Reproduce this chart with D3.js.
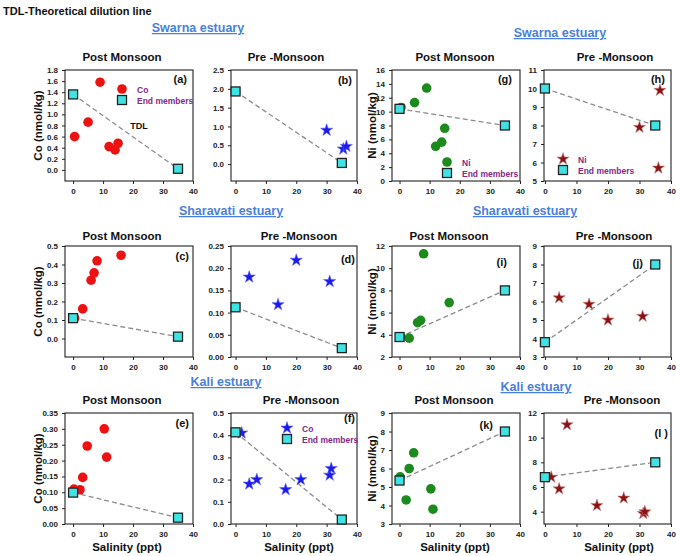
<!DOCTYPE html>
<html>
<head>
<meta charset="utf-8">
<script src="https://cdn.jsdelivr.net/npm/d3@7"></script>
<style>
  body { margin: 0; background: #fff; }
  text { font-family: Arial, "Liberation Sans", sans-serif; font-weight: bold; }
</style>
</head>
<body>
<div id="chart"></div>
<script>
// Data (salinity in ppt, metals in nmol/kg)
var swarnaPostSal = [0.5, 5, 9, 12, 14, 15];
var swarnaPostCo  = [0.6, 0.86, 1.58, 0.42, 0.36, 0.48];
var swarnaPreSal  = [30, 35.5, 36.5];
var swarnaPreCo   = [0.9, 0.4, 0.47];
var swarnaPostNiSal = [0.5, 5, 9, 12, 14, 15];
var swarnaPostNi  = [10.6, 11.3, 13.4, 5.0, 5.6, 7.6];
var swarnaPreNiSal = [30, 36.5, 36];
var swarnaPreNi   = [7.9, 9.9, 5.7];

var sharaPostSal  = [0.5, 3.2, 6, 7, 8, 16];
var sharaPostCo   = [0.11, 0.16, 0.315, 0.355, 0.42, 0.45];
var sharaPreSal   = [4.5, 14, 20, 31];
var sharaPreCo    = [0.18, 0.118, 0.218, 0.17];
var sharaPostNiSal = [0.5, 3.2, 6, 7, 8, 16.5];
var sharaPostNi   = [3.8, 3.7, 5.1, 5.3, 11.3, 6.9];
var sharaPreNiSal = [4.5, 14, 20, 31];
var sharaPreNi    = [6.2, 5.85, 5.0, 5.2];

var kaliPostSal   = [0.3, 2.3, 3.2, 4.7, 10.4, 11.2];
var kaliPostCo    = [0.11, 0.108, 0.147, 0.246, 0.3, 0.211];
var kaliPreSal    = [2, 4.5, 7, 16.5, 21.5, 31, 31.5];
var kaliPreCo     = [0.41, 0.18, 0.2, 0.155, 0.2, 0.22, 0.25];
var kaliPostNiSal = [0.2, 2.2, 3.2, 4.7, 10.4, 11.1];
var kaliPostNi    = [5.55, 4.3, 6.0, 6.85, 4.9, 3.8];
var kaliPreNiSal  = [2, 4.5, 7, 16.5, 25, 31.2, 31.7];
var kaliPreNi     = [6.8, 5.85, 11.05, 4.5, 5.1, 3.85, 4.0];

// End members: river (0 ppt) and sea (35 ppt)
var endSal = [0, 35];
var endA = [1.36, 0.02], endB = [1.93, 0.03], endG = [10.4, 8], endH = [10, 8];
var endC = [0.11, 0.01], endD = [0.112, 0.02], endI = [3.8, 8], endJ = [3.8, 8];
var endE = [0.099, 0.02], endF = [0.413, 0.02], endK = [5.35, 8], endL = [6.8, 8];

var xTicks = [0, 10, 20, 30, 40];

var svgW = 676, svgH = 556;
var svg = d3.select('#chart').append('svg')
  .attr('width', svgW)
  .attr('height', svgH);

var colors = {
  co: '#ee1111', coPre: '#1a1aee', ni: '#1c8a1c', niPre: '#8b1212',
  end: '#3fe3e3', legend: '#84288a', head: '#4a80dc'
};

// Layout
var colX = [65, 231, 392, 544];
var colW = [128, 126, 128, 127];
var colX0 = [-2.7, -1.5, -2.5, -0.3];
var rowY = [70, 246, 413];
var rowH = 111;

var panels = [
  {id: '(a)', r: 0, c: 0, sal: swarnaPostSal, val: swarnaPostCo, end: endA, kind: 'co',
   y: [-0.2, 1.8], ticks: d3.range(0, 1.81, 0.2), fmt: '.1f', lab: [-6, 13],
   legend: {sym: 'circle', name: 'Co', x: 57, y: 19}, tdl: true},
  {id: '(b)', r: 0, c: 1, sal: swarnaPreSal, val: swarnaPreCo, end: endB, kind: 'coPre',
   y: [-0.45, 2.5], ticks: d3.range(0, 2.51, 0.5), fmt: '.1f', lab: [-5, 14]},
  {id: '(g)', r: 0, c: 2, sal: swarnaPostNiSal, val: swarnaPostNi, end: endG, kind: 'ni',
   y: [0, 16], ticks: d3.range(0, 16.1, 2), fmt: 'd', lab: [-8, 13],
   legend: {sym: 'circle', name: 'Ni', x: 55, y: 92}},
  {id: '(h)', r: 0, c: 3, sal: swarnaPreNiSal, val: swarnaPreNi, end: endH, kind: 'niPre',
   y: [5, 11], ticks: d3.range(5, 11.1, 1), fmt: 'd', lab: [-6, 13],
   legend: {sym: 'star', name: 'Ni', x: 19, y: 89}},
  {id: '(c)', r: 1, c: 0, sal: sharaPostSal, val: sharaPostCo, end: endC, kind: 'co',
   y: [-0.1, 0.5], ticks: d3.range(0, 0.51, 0.1), fmt: '.1f', lab: [-4, 14]},
  {id: '(d)', r: 1, c: 1, sal: sharaPreSal, val: sharaPreCo, end: endD, kind: 'coPre',
   y: [0, 0.25], ticks: d3.range(0, 0.251, 0.05), fmt: '.2f', lab: [-2, 17]},
  {id: '(i)', r: 1, c: 2, sal: sharaPostNiSal, val: sharaPostNi, end: endI, kind: 'ni',
   y: [2, 12], ticks: d3.range(2, 12.1, 2), fmt: 'd', lab: [-13, 20]},
  {id: '(j)', r: 1, c: 3, sal: sharaPreNiSal, val: sharaPreNi, end: endJ, kind: 'niPre',
   y: [3, 9], ticks: d3.range(3, 9.1, 1), fmt: 'd', lab: [-28, 21]},
  {id: '(e)', r: 2, c: 0, sal: kaliPostSal, val: kaliPostCo, end: endE, kind: 'co',
   y: [0, 0.35], ticks: d3.range(0, 0.351, 0.05), fmt: '.2f', lab: [-4, 14]},
  {id: '(f)', r: 2, c: 1, sal: kaliPreSal, val: kaliPreCo, end: endF, kind: 'coPre',
   y: [0, 0.5], ticks: d3.range(0, 0.51, 0.1), fmt: '.1f', lab: [-2, 9],
   legend: {sym: 'star', name: 'Co', x: 56, y: 15}},
  {id: '(k)', r: 2, c: 2, sal: kaliPostNiSal, val: kaliPostNi, end: endK, kind: 'ni',
   y: [3, 9], ticks: d3.range(3, 9.1, 1), fmt: 'd', lab: [-27, 16]},
  {id: '(l )', r: 2, c: 3, sal: kaliPreNiSal, val: kaliPreNi, end: endL, kind: 'niPre',
   y: [3, 12], ticks: d3.range(4, 12.1, 2), fmt: 'd', lab: [-3, 24]}
];

var star = d3.symbol().type(d3.symbolStar).size(46);
var sq = 9;

function drawSym(g, sym, kind, x, y) {
  if (sym == 'circle') {
    g.append('circle').attr('cx', x).attr('cy', y).attr('r', 4.8)
      .attr('fill', colors[kind]);
  } else {
    g.append('path').attr('d', star).attr('transform', 'translate(' + x + ',' + y + ')')
      .attr('fill', colors[kind])
      .attr('stroke', kind == 'niPre' ? '#c98080' : '#6060ff').attr('stroke-width', 0.6);
  }
}

panels.forEach(function (p) {
  var w = colW[p.c], h = rowH;
  var g = svg.append('g')
    .attr('transform', 'translate(' + colX[p.c] + ',' + rowY[p.r] + ')');

  var xScale = d3.scaleLinear().domain([colX0[p.c], 40]).range([0, w]);
  var yScale = d3.scaleLinear().domain(p.y).range([h, 0]);

  // axes
  var xAxis = d3.axisBottom(xScale).tickValues(xTicks).tickSize(3).tickPadding(4)
    .tickFormat(d3.format('d'));
  var yAxis = d3.axisLeft(yScale).tickValues(p.ticks).tickSize(3).tickPadding(4)
    .tickFormat(d3.format(p.fmt));
  var xa = g.append('g').attr('transform', 'translate(0,' + h + ')').call(xAxis);
  var ya = g.append('g').call(yAxis);
  [xa, ya].forEach(function (a) {
    a.select('.domain').remove();
    a.selectAll('text').attr('font-size', 8).attr('fill', '#222');
    a.selectAll('line').attr('stroke', '#222');
  });

  // frame
  g.append('rect').attr('width', w).attr('height', h)
    .attr('fill', 'none').attr('stroke', '#222').attr('stroke-width', 1.1);

  // theoretical dilution line
  g.append('line')
    .attr('x1', xScale(endSal[0])).attr('y1', yScale(p.end[0]))
    .attr('x2', xScale(endSal[1])).attr('y2', yScale(p.end[1]))
    .attr('stroke', '#8c8c8c').attr('stroke-width', 1.3).attr('stroke-dasharray', '5,3');

  // samples
  var pts = p.sal.map(function (s, i) { return {s: s, v: p.val[i]}; });
  var sym = (p.kind == 'co' || p.kind == 'ni') ? 'circle' : 'star';
  pts.forEach(function (d) { drawSym(g, sym, p.kind, xScale(d.s), yScale(d.v)); });

  // end members
  g.selectAll('rect.end')
    .data(endSal.map(function (s, i) { return {s: s, v: p.end[i]}; }))
    .enter()
    .append('rect')
    .attr('class', 'end')
    .attr('x', d => xScale(d.s) - sq / 2)
    .attr('y', d => yScale(d.v) - sq / 2)
    .attr('width', sq).attr('height', sq)
    .attr('fill', colors.end).attr('stroke', '#222').attr('stroke-width', 1.3);

  // panel label
  g.append('text').attr('x', w + p.lab[0]).attr('y', p.lab[1])
    .attr('text-anchor', 'end').attr('font-size', 11).attr('fill', '#111')
    .text(p.id);

  // legend
  if (p.legend) {
    var L = p.legend;
    drawSym(g, L.sym, p.kind, L.x, L.y);
    g.append('rect').attr('x', L.x - sq / 2).attr('y', L.y + 11 - sq / 2)
      .attr('width', sq).attr('height', sq)
      .attr('fill', colors.end).attr('stroke', '#222').attr('stroke-width', 1.3);
    g.append('text').attr('x', L.x + 15).attr('y', L.y + 3.5)
      .attr('font-size', 8.5).attr('fill', colors.legend).text(L.name);
    g.append('text').attr('x', L.x + 15).attr('y', L.y + 14.5)
      .attr('font-size', 8.5).attr('fill', colors.legend).text('End members');
  }
  if (p.tdl) {
    g.append('text').attr('x', xScale(22)).attr('y', yScale(0.8) + 3)
      .attr('text-anchor', 'middle').attr('font-size', 9).attr('fill', '#111').text('TDL');
  }
});

// Panel titles
var titleX = [[122, 286, 455, 615], [122, 299, 449, 614], [122, 301, 454, 622]];
var titleY = [61, 240, 404];
titleX.forEach(function (row, r) {
  row.forEach(function (x, c) {
    svg.append('text').attr('x', x).attr('y', titleY[r])
      .attr('text-anchor', 'middle').attr('font-size', 11.5).attr('fill', '#111')
      .text(c % 2 == 0 ? 'Post Monsoon' : 'Pre -Monsoon');
  });
});

// Axis titles
[[42, 'Co (nmol/kg)'], [376, 'Ni (nmol/kg)']].forEach(function (a) {
  rowY.forEach(function (y) {
    svg.append('text')
      .attr('transform', 'translate(' + a[0] + ',' + (y + rowH / 2) + ') rotate(-90)')
      .attr('text-anchor', 'middle').attr('font-size', 11.5).attr('fill', '#111')
      .text(a[1]);
  });
});
[127, 299, 455, 619].forEach(function (x) {
  svg.append('text').attr('x', x).attr('y', 551)
    .attr('text-anchor', 'middle').attr('font-size', 11.5).attr('fill', '#111')
    .text('Salinity (ppt)');
});

// Estuary headings
var headings = [
  ['Swarna estuary', 198, 32], ['Swarna estuary', 560, 37],
  ['Sharavati estuary', 231, 215], ['Sharavati estuary', 525, 215],
  ['Kali estuary', 226, 386], ['Kali estuary', 536, 391]
];
headings.forEach(function (hd) {
  svg.append('text').attr('x', hd[1]).attr('y', hd[2])
    .attr('text-anchor', 'middle').attr('font-size', 12.5)
    .attr('fill', colors.head).attr('text-decoration', 'underline')
    .text(hd[0]);
});

svg.append('text').attr('x', 3).attr('y', 15)
  .attr('font-size', 11).attr('fill', '#111')
  .text('TDL-Theoretical dilution line');
</script>
</body>
</html>
